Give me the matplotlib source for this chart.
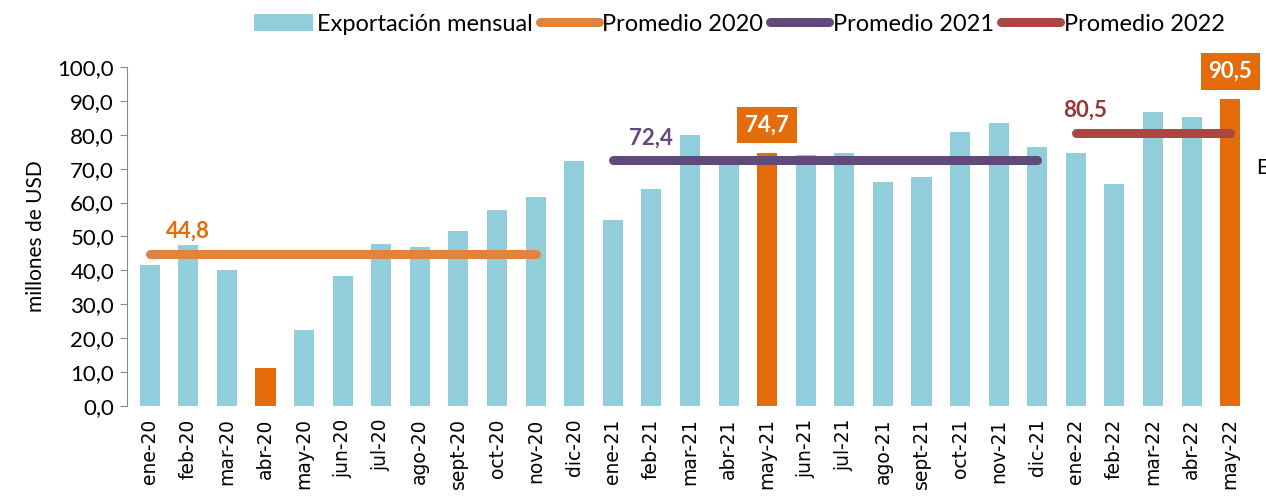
import numpy as np
import matplotlib
matplotlib.use("Agg")
import matplotlib.pyplot as plt
from matplotlib.patches import Patch
from matplotlib.lines import Line2D

# datos
meses = ['ene-20', 'feb-20', 'mar-20', 'abr-20', 'may-20', 'jun-20', 'jul-20',
         'ago-20', 'sept-20', 'oct-20', 'nov-20', 'dic-20',
         'ene-21', 'feb-21', 'mar-21', 'abr-21', 'may-21', 'jun-21', 'jul-21',
         'ago-21', 'sept-21', 'oct-21', 'nov-21', 'dic-21',
         'ene-22', 'feb-22', 'mar-22', 'abr-22', 'may-22']
exportacion = [41.5, 47.6, 40.2, 11.1, 22.3, 38.3, 47.9, 46.8, 51.5, 57.7, 61.6, 72.2,
               54.7, 64.1, 80.0, 72.0, 74.7, 73.9, 74.5, 66.1, 67.4, 80.8, 83.5, 76.5,
               74.7, 65.4, 86.7, 85.2, 90.5]
destacados = ['abr-20', 'may-21', 'may-22']
etiquetas_caja = ['may-21', 'may-22']

promedios = [44.8, 72.4, 80.5]
prom_inicio = ['ene-20', 'ene-21', 'ene-22']
prom_fin = ['nov-20', 'dic-21', 'may-22']
prom_nombres = ['Promedio 2020', 'Promedio 2021', 'Promedio 2022']
prom_etiqueta_en = ['feb-20', 'feb-21', 'ene-22']

azul = '#92CDDC'
naranja = '#E46C0A'
colores_linea = ['#DE8440', '#604A7B', '#AA4643']
colores_texto = ['#E46C0A', '#604A7B', '#953735']

fig = plt.figure(figsize=(12.66, 5.03), dpi=100)
ax = fig.add_axes([0.100, 0.193, 0.890, 0.674])

x = np.arange(len(meses))
colores = [naranja if m in destacados else azul for m in meses]
ax.bar(x, exportacion, width=0.52, color=colores, zorder=2)

for val, ini, fin, c in zip(promedios, prom_inicio, prom_fin, colores_linea):
    i0, i1 = meses.index(ini), meses.index(fin)
    ax.plot([i0, i1], [val, val], color=c, lw=6.5, solid_capstyle='round', zorder=3)

for val, m, c in zip(promedios, prom_etiqueta_en, colores_texto):
    i = meses.index(m)
    xo = 0.25 if m == 'ene-22' else 0.0
    ax.text(i + xo, val + 3.5, f"{val:.1f}".replace('.', ','), color=c,
            fontsize=16, fontweight='bold', family='Lato', ha='center', va='bottom', zorder=4)

for m in etiquetas_caja:
    i = meses.index(m)
    v = exportacion[i]
    ax.text(i, v + 5.0, f"{v:.1f}".replace('.', ','), color='white', fontsize=16,
            fontweight='bold', family='Lato', ha='center', va='bottom', zorder=5, clip_on=False,
            bbox=dict(boxstyle='square,pad=0.35', fc=naranja, ec='none'))

ax.set_xlim(-0.6, len(meses) - 0.4)
ax.set_ylim(0, 100)
ax.set_yticks(np.arange(0, 101, 10))
ax.set_yticklabels([f"{v:.1f}".replace('.', ',') for v in np.arange(0, 101, 10)],
                   fontsize=16, family='Lato')
ax.set_xticks(x)
ax.set_xticklabels(meses, rotation=90, fontsize=13.5, family='DejaVu Sans')
ax.tick_params(axis='x', length=0, pad=9)
ax.tick_params(axis='y', length=5, color='#888888', pad=4)
for s in ['top', 'right', 'bottom']:
    ax.spines[s].set_visible(False)
ax.spines['left'].set_color('#888888')
ax.set_ylabel('millones de USD', fontsize=15, family='Lato', labelpad=8)

handles = [Patch(facecolor=azul, edgecolor='none', label='Exportación mensual')]
for c, n in zip(colores_linea, prom_nombres):
    handles.append(Line2D([0], [0], color=c, lw=6.5, solid_capstyle='round', label=n))
fig.legend(handles=handles, loc='upper center', bbox_to_anchor=(0.584, 1.015), ncol=4,
           frameon=False, prop={'family': 'Lato', 'size': 17}, handlelength=2.5,
           handletextpad=0.15, columnspacing=0.3)

fig.text(1256 / 1266, 1 - 168 / 503, 'E', fontsize=15, family='Lato', va='center')

fig.savefig('out.png', dpi=100)
